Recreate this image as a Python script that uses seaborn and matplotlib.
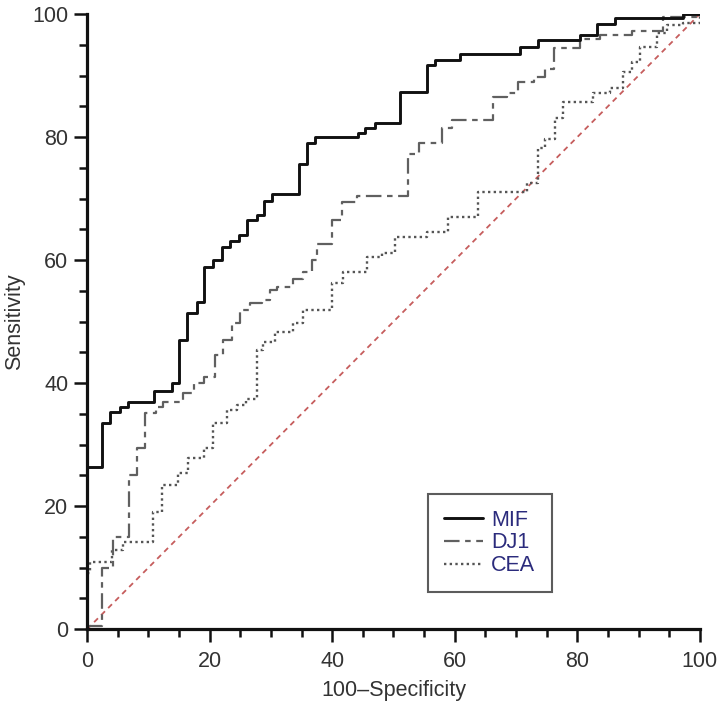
import matplotlib
matplotlib.use("Agg")
import matplotlib.pyplot as plt
from matplotlib.ticker import MultipleLocator
import seaborn as sns

# ROC-Kurven (100-Spezifität, Sensitivität)
mif_fpr = [0, 2.4, 3.8, 5.3, 6.7, 10.9, 13.8, 15.0, 16.3, 17.9, 19.1, 20.6, 22.0,
           23.3, 24.8, 26.1, 27.7, 28.9, 30.2, 34.6, 35.9, 37.2, 44.2, 45.3, 47.0,
           51.1, 55.5, 56.8, 60.8, 70.6, 73.6, 80.4, 83.2, 86.1, 97.2, 100]
mif_tpr = [26.3, 33.5, 35.3, 36.1, 37.0, 38.7, 40.0, 47.0, 51.4, 53.2, 58.9, 60.0, 62.1,
           63.1, 64.1, 66.5, 67.3, 69.6, 70.7, 75.7, 79.0, 80.0, 80.6, 81.4, 82.3,
           87.3, 91.7, 92.5, 93.5, 94.6, 95.8, 96.6, 98.4, 99.3, 100, 100]

dj1_fpr = [0, 2.5, 4.2, 6.8, 8.2, 9.4, 11.2, 12.4, 15.7, 17.5, 19.0, 20.9, 22.2, 23.6,
           25.0, 26.6, 28.5, 29.9, 31.0, 33.6, 35.2, 36.7, 37.5, 40.0, 41.6, 44.0,
           52.3, 54.2, 57.9, 59.6, 66.2, 68.6, 70.4, 72.9, 74.8, 76.2, 80.4, 83.7,
           89.0, 94.0, 97.2, 100]
dj1_tpr = [0.5, 10.0, 15.0, 25.0, 29.5, 35.1, 36.1, 37.0, 38.4, 40.0, 41.0, 44.5, 47.0,
           49.8, 51.9, 53.0, 53.5, 55.1, 55.6, 57.0, 58.0, 60.0, 62.7, 66.5, 69.4,
           70.4, 77.2, 79.0, 81.4, 82.8, 86.5, 87.2, 89.0, 89.7, 91.0, 94.5, 95.9,
           96.6, 97.2, 99.5, 99.5, 100]

cea_fpr = [0, 0.5, 4.0, 5.9, 10.8, 12.2, 14.9, 16.5, 19.0, 20.6, 22.8, 24.5, 26.0,
           27.7, 28.7, 30.7, 33.6, 35.2, 40.0, 41.8, 45.7, 48.1, 50.2, 55.5, 58.9,
           63.8, 71.8, 73.6, 74.7, 76.3, 77.7, 82.5, 85.3, 87.4, 89.0, 90.2, 93.0,
           94.6, 97.2, 100]
cea_tpr = [9.1, 10.9, 12.8, 14.1, 19.0, 23.4, 25.4, 27.8, 29.4, 33.5, 35.6, 36.5, 37.5,
           45.4, 46.7, 48.3, 49.8, 51.9, 56.3, 58.0, 60.5, 61.1, 63.7, 64.6, 67.0,
           71.0, 72.5, 78.2, 79.7, 83.1, 85.7, 87.1, 88.0, 90.6, 92.2, 94.6, 96.9,
           98.2, 98.5, 100]

ref_x = [0, 100]
ref_y = [0, 100]

sns.set_style("ticks")
plt.rcParams["font.family"] = ["Liberation Sans", "DejaVu Sans"]

fig = plt.figure(figsize=(7.2, 7.03), dpi=100)
ax = fig.add_axes([0.121, 0.105, 0.851, 0.875])

# Referenzlinie
sns.lineplot(x=ref_x, y=ref_y, ax=ax, color="#c65d5d", linewidth=1.3,
             linestyle=(0, (3, 2.5)), estimator=None, sort=False)

sns.lineplot(x=cea_fpr, y=cea_tpr, ax=ax, color="#555555", linewidth=1.7,
             linestyle=(0, (1, 1.4)), drawstyle="steps-post",
             estimator=None, sort=False, label="CEA")
sns.lineplot(x=dj1_fpr, y=dj1_tpr, ax=ax, color="#606060", linewidth=1.6,
             linestyle=(0, (7, 2.5, 2.5, 2.5)), drawstyle="steps-post",
             estimator=None, sort=False, label="DJ1")
sns.lineplot(x=mif_fpr, y=mif_tpr, ax=ax, color="#111111", linewidth=2.1,
             drawstyle="steps-post", estimator=None, sort=False, label="MIF")

ax.set_xlim(0, 100)
ax.set_ylim(0, 100)
ax.xaxis.set_major_locator(MultipleLocator(20))
ax.xaxis.set_minor_locator(MultipleLocator(5))
ax.yaxis.set_major_locator(MultipleLocator(20))
ax.yaxis.set_minor_locator(MultipleLocator(5))
sns.despine(ax=ax)
for side in ["left", "bottom"]:
    ax.spines[side].set_linewidth(2.3)
    ax.spines[side].set_color("#111111")
ax.tick_params(which="major", length=9.5, width=1.8, color="#111111",
               labelsize=15.5, labelcolor="#333333")
ax.tick_params(axis="x", which="major", pad=6)
ax.tick_params(axis="y", which="major", pad=4)
ax.tick_params(which="minor", length=5.5, width=1.8, color="#111111")

ax.set_xlabel("100\u2013Specificity", fontsize=15.5, color="#333333", labelpad=6)
ax.set_ylabel("Sensitivity", fontsize=15.5, color="#333333", labelpad=5)

# Legende in der Reihenfolge MIF, DJ1, CEA
handles, labels = ax.get_legend_handles_labels()
order = [labels.index(n) for n in ["MIF", "DJ1", "CEA"]]
leg = ax.legend([handles[i] for i in order], [labels[i] for i in order],
                loc="lower left", bbox_to_anchor=(0.556, 0.06), fontsize=15.5,
                frameon=True, fancybox=False, handlelength=1.8,
                handletextpad=0.4, labelspacing=0.08, borderpad=0.75,
                borderaxespad=0)
leg.get_frame().set_edgecolor("#333333")
leg.get_frame().set_linewidth(1.5)
for t in leg.get_texts():
    t.set_color("#2b2b7c")

fig.savefig("out.png", dpi=100)
